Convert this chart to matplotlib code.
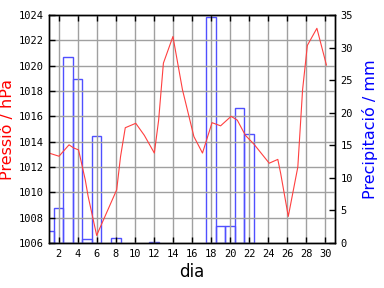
import numpy as np
from matplotlib import pyplot as plt

# pressure (hPa)
p_day = [1.0, 2.05, 3.1, 3.6, 4.1, 4.8, 5.1, 6.0, 6.55, 8.1, 8.5, 9.0, 10.1,
         11.0, 12.05, 12.5, 13.0, 14.0, 15.0, 16.2, 17.1, 18.1, 19.0, 20.1,
         20.75, 21.6, 22.5, 24.1, 25.0, 25.3, 26.1, 27.1, 27.6, 28.1, 29.1, 30.1]
pressure = [1013.1, 1012.85, 1013.75, 1013.5, 1013.35, 1011.0, 1009.7, 1006.6,
            1007.55, 1010.2, 1012.8, 1015.1, 1015.45, 1014.5, 1013.1, 1015.7,
            1020.2, 1022.3, 1018.1, 1014.4, 1013.1, 1015.5, 1015.25, 1016.0,
            1015.7, 1014.5, 1013.8, 1012.3, 1012.6, 1011.5, 1008.1, 1012.0,
            1018.1, 1021.6, 1022.95, 1020.05]

# daily precipitation (mm)
r_day = [1, 2, 3, 4, 5, 6, 8, 12, 18, 19, 20, 21, 22]
rain = [1.9, 5.3, 28.5, 25.1, 0.6, 16.4, 0.8, 0.2, 34.7, 2.6, 2.6, 20.8, 16.7]

x_ticks = list(range(2, 31, 2))
p_ticks = list(range(1006, 1025, 2))
r_ticks = list(range(0, 36, 5))

RED = '#ff4040'
BLUE = '#5050ff'
GRID = '#a0a0a0'

fig = plt.figure(figsize=(3.84, 2.88), dpi=100)
ax = fig.add_axes([49 / 384, 45 / 288, 286 / 384, 228 / 288])
ax2 = ax.twinx()

ax2.bar(r_day, rain, width=1.0, fill=False, edgecolor=BLUE, linewidth=1.0)
ax.plot(p_day, pressure, color=RED, linewidth=0.8)

ax.set_zorder(ax2.get_zorder() + 1)
ax.patch.set_visible(False)

ax.set_xlim(1, 31)
ax.set_ylim(1006, 1024)
ax2.set_ylim(0, 35)
ax.set_xticks(x_ticks)
ax.set_yticks(p_ticks)
ax2.set_yticks(r_ticks)

ax.grid(True, color=GRID, linewidth=1.0)
ax.set_axisbelow(True)

ax.tick_params(direction='in', length=4, top=True, width=1, pad=4)
ax2.tick_params(direction='in', length=4, width=1, pad=4)
for lab in ax.get_xticklabels() + ax.get_yticklabels() + ax2.get_yticklabels():
    lab.set_fontfamily('DejaVu Sans Mono')
    lab.set_fontsize(7.5)

for a in (ax, ax2):
    for s in a.spines.values():
        s.set_linewidth(1.0)

ax.set_xlabel('dia', fontsize=12, labelpad=3)
ax.set_ylabel('Pressió / hPa', color='red', fontsize=11.5)
ax.yaxis.set_label_coords(-0.118, 0.5)
ax2.set_ylabel('Precipitació / mm', color='blue', fontsize=11.5)
ax2.yaxis.set_label_coords(1.094, 0.5)

fig.savefig('out.png', dpi=100)
